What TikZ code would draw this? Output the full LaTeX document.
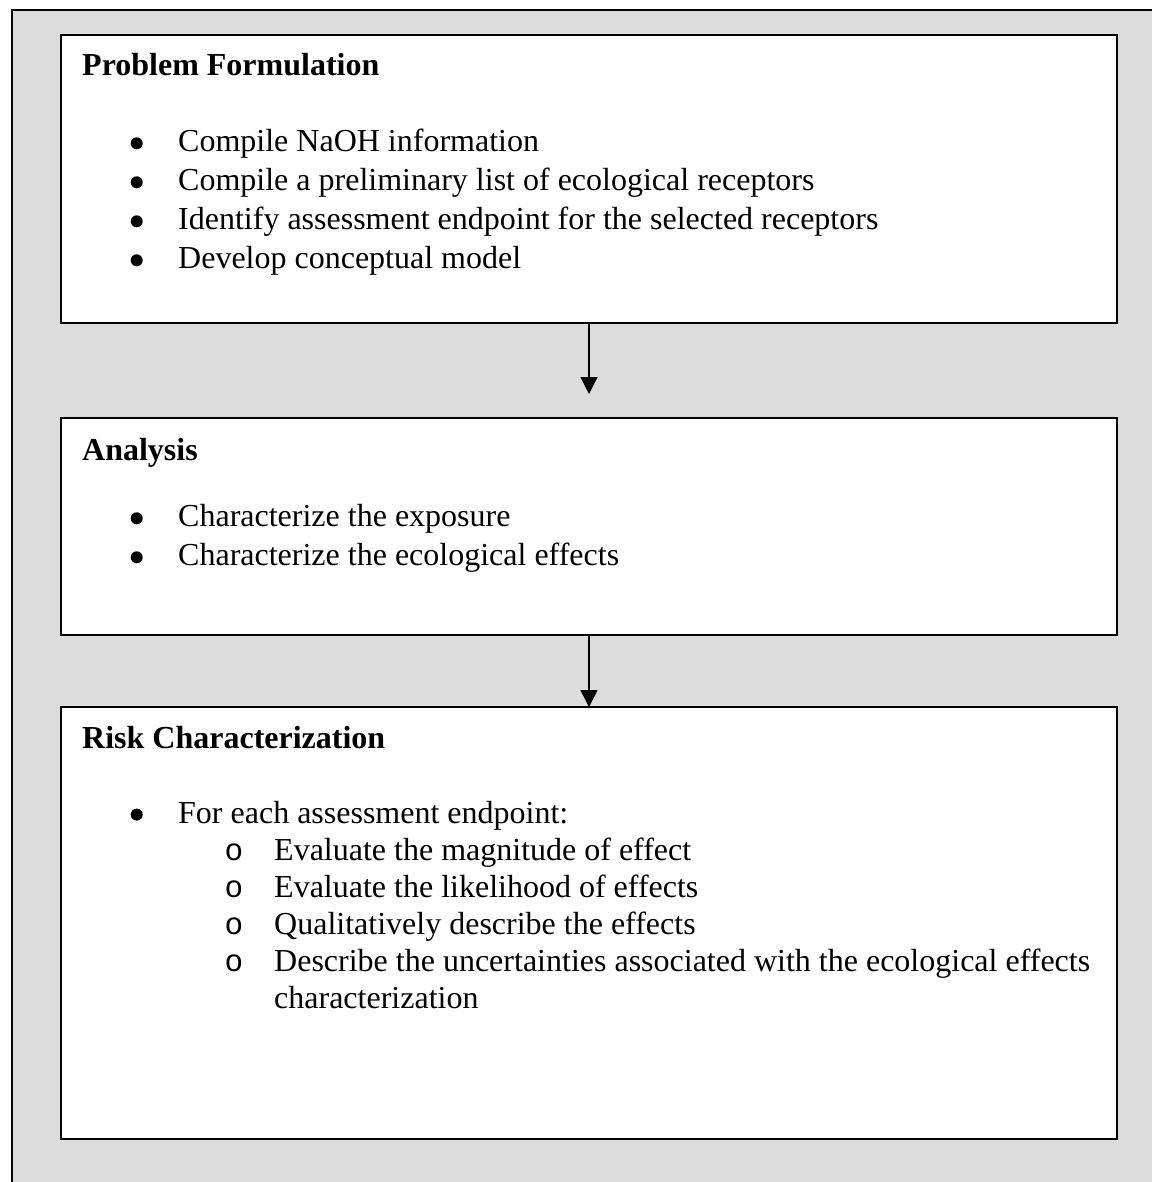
\documentclass[tikz,border=0pt]{standalone}
\usepackage{fontspec}
\setmainfont{Liberation Serif}
\newfontfamily\circfont{Liberation Mono}
\usetikzlibrary{positioning, arrows.meta}
\definecolor{panelgrey}{HTML}{DCDCDC}

\begin{document}
\begin{tikzpicture}[x=1pt,y=-1pt,
	stage/.style={draw, line width=1.5pt, fill=white, rectangle, minimum width=1056pt, inner sep=0pt, outer sep=0pt, anchor=north},
	heading/.style={anchor=base west, inner sep=0pt, font=\fontsize{32}{38}\selectfont\bfseries},
	item/.style={anchor=base west, inner sep=0pt, font=\fontsize{32}{38}\selectfont},
	bulletsym/.style={circle, fill, inner sep=0pt, minimum size=12pt},
	circsym/.style={anchor=base, inner sep=0pt, font=\fontsize{31}{38}\circfont},
	flow/.style={line width=1.5pt, -{Triangle[width=17pt,length=17pt]}}
	]
	\useasboundingbox (0,0) rectangle (1151,1182);
	\draw[line width=1.5pt, fill=panelgrey] (12,10) rectangle (1175,1200);

	\node[stage, minimum height=288pt] (formulation) at (589,35) {};
	\node[stage, minimum height=217pt] (analysis) at (589,418) {};
	\node[stage, minimum height=432pt] (risk) at (589,707) {};

	% Problem Formulation
	\node[heading] (formulation title) at (82,76) {Problem Formulation};
	\foreach \txt [count=\i] in {Compile NaOH information, Compile a preliminary list of ecological receptors, Identify assessment endpoint for the selected receptors, Develop conceptual model}{
		\node[bulletsym] (formulation dot-\i) at (136.7,{104.3+39*\i}) {};
		\node[item] (formulation-\i) at (178,{112.7+39*\i}) {\txt};
	}

	% Analysis
	\node[heading] (analysis title) at (82,460) {Analysis};
	\foreach \txt [count=\i] in {Characterize the exposure, Characterize the ecological effects}{
		\node[bulletsym] (analysis dot-\i) at (136.7,{479.3+39*\i}) {};
		\node[item] (analysis-\i) at (178,{487.7+39*\i}) {\txt};
	}

	% Risk Characterization
	\node[heading] (risk title) at (82,748) {Risk Characterization};
	\node[bulletsym] (risk dot) at (136.7,814.6) {};
	\node[item] (risk-0) at (178,823) {For each assessment endpoint:};
	\foreach \txt [count=\i] in {Evaluate the magnitude of effect, Evaluate the likelihood of effects, Qualitatively describe the effects, Describe the uncertainties associated with the ecological effects}{
		\node[circsym] (risk circ-\i) at (234,{823+37*\i}) {o};
		\node[item] (risk-\i) at (274,{823+37*\i}) {\txt};
	}
	\node[item] (risk-5) at (274,1008) {characterization};

	\coordinate (gap) at ([yshift=24pt]analysis.north);
	\draw[flow] (formulation.south) -- (gap);
	\draw[flow] (analysis.south) -- (risk.north);
\end{tikzpicture}
\end{document}
